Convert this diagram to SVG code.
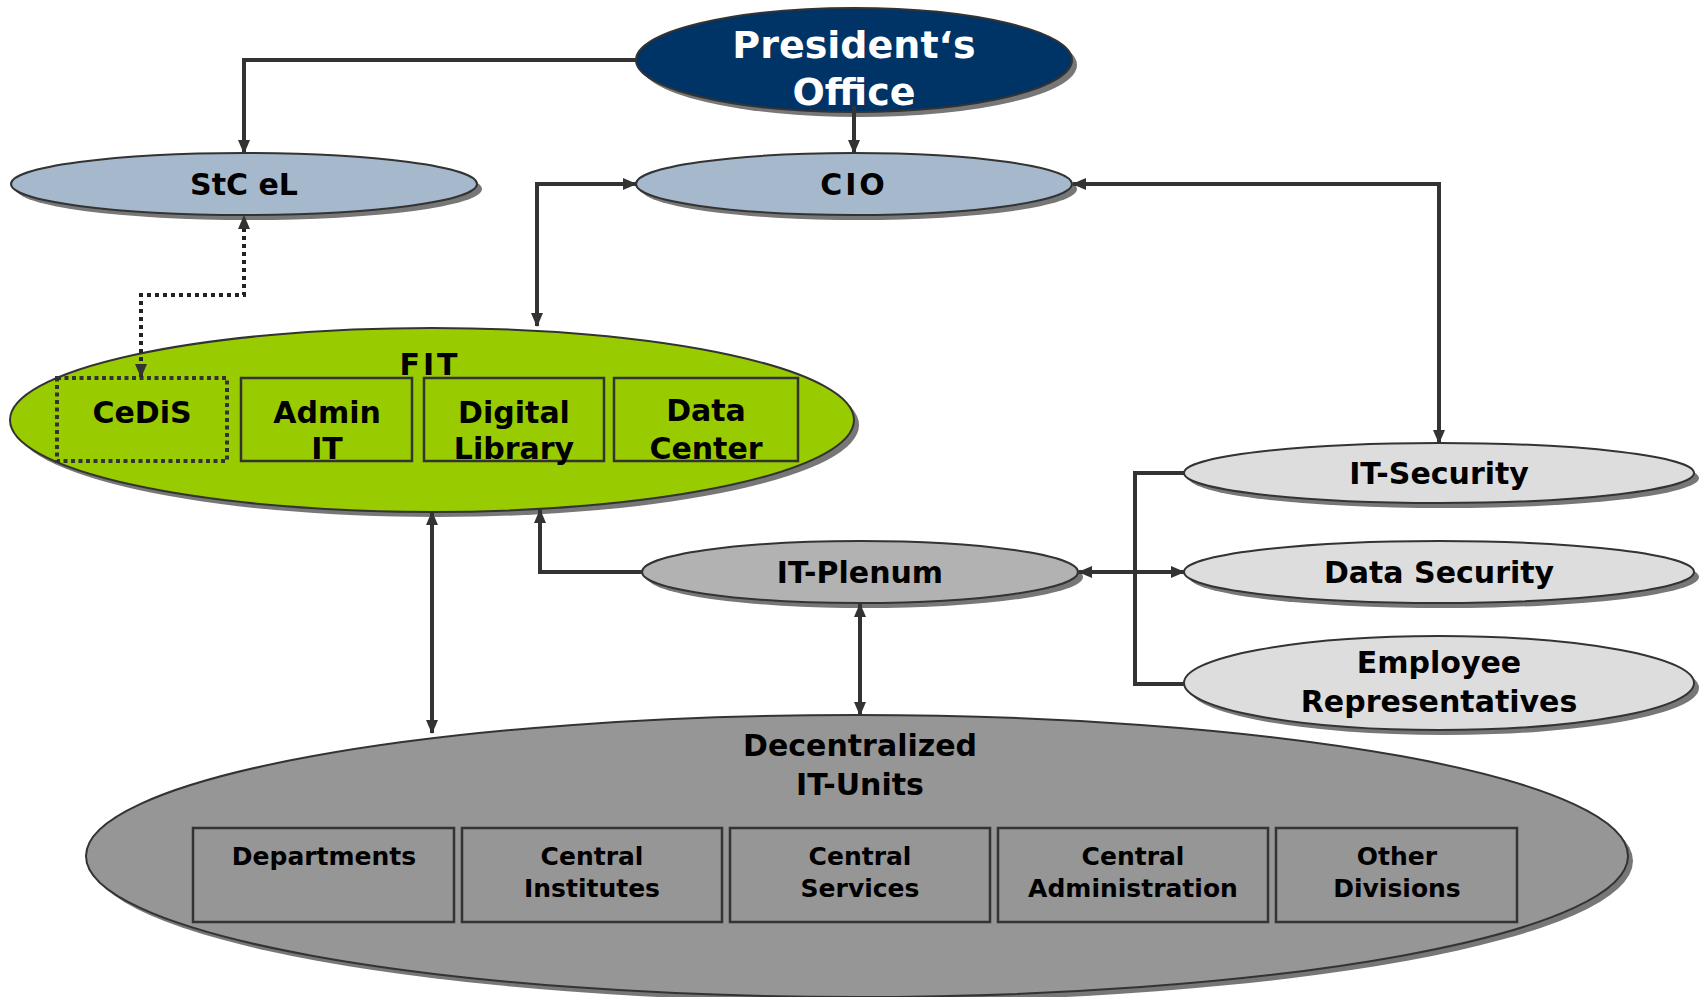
<svg xmlns="http://www.w3.org/2000/svg" width="1700" height="997" viewBox="0 0 1700 997">
<defs>
<marker id="ah" markerWidth="14" markerHeight="12" refX="13" refY="6" orient="auto-start-reverse" markerUnits="userSpaceOnUse">
<path d="M0,0 L14,6 L0,12 Z" fill="#333"/>
</marker>
</defs>
<style>
.t{font-family:"DejaVu Sans","Liberation Sans",sans-serif;font-weight:bold;fill:#000;text-anchor:middle}
.big{font-size:30px}
.sm{font-size:25px}
.sh{fill:#777}
.el{stroke:#333;stroke-width:2}
.box{fill:none;stroke:#333;stroke-width:2.5}
.c{fill:none;stroke:#333;stroke-width:4}
.cd{fill:none;stroke:#222;stroke-width:4;stroke-dasharray:4 4}
</style>
<rect width="1700" height="997" fill="#fff"/>

<g id="president">
<ellipse class="sh" cx="859" cy="65" rx="218" ry="52"/>
<ellipse class="el" cx="854" cy="60" rx="218" ry="52" fill="#003366"/>
<text class="t" x="854" y="58" font-size="38" style="fill:#fff">President‘s</text>
<text class="t" x="854" y="105" font-size="38" style="fill:#fff">Office</text>
</g>

<g id="stcel">
<ellipse class="sh" cx="249" cy="189" rx="233" ry="31"/>
<ellipse class="el" cx="244" cy="184" rx="233" ry="31" fill="#a6b8cc"/>
<text class="t big" x="244" y="195">StC eL</text>
</g>

<g id="cio">
<ellipse class="sh" cx="859" cy="189" rx="218" ry="31"/>
<ellipse class="el" cx="854" cy="184" rx="218" ry="31" fill="#a6b8cc"/>
<text class="t big" x="854" y="195" letter-spacing="3">CIO</text>
</g>

<g id="fit">
<ellipse class="sh" cx="437" cy="425" rx="422" ry="92"/>
<ellipse class="el" cx="432" cy="420" rx="422" ry="92" fill="#99cc00"/>
<text class="t big" x="430" y="375" letter-spacing="3">FIT</text>
<rect x="57" y="378" width="170" height="83" fill="none" stroke="#333" stroke-width="4" stroke-dasharray="4 3.5"/>
<text class="t big" x="142" y="423">CeDiS</text>
<rect class="box" x="241" y="378" width="171" height="83"/>
<text class="t big" x="327" y="423">Admin</text>
<text class="t big" x="327" y="459">IT</text>
<rect class="box" x="424" y="378" width="180" height="83"/>
<text class="t big" x="514" y="423">Digital</text>
<text class="t big" x="514" y="459">Library</text>
<rect class="box" x="614" y="378" width="184" height="83"/>
<text class="t big" x="706" y="421">Data</text>
<text class="t big" x="706" y="459">Center</text>
</g>

<g id="itsecurity">
<ellipse class="sh" cx="1444" cy="478" rx="255" ry="30"/>
<ellipse class="el" cx="1439" cy="473" rx="255" ry="30" fill="#dddddd"/>
<text class="t big" x="1439" y="484">IT-Security</text>
</g>

<g id="datasecurity">
<ellipse class="sh" cx="1444" cy="577" rx="255" ry="31"/>
<ellipse class="el" cx="1439" cy="572" rx="255" ry="31" fill="#dddddd"/>
<text class="t big" x="1439" y="583">Data Security</text>
</g>

<g id="employee">
<ellipse class="sh" cx="1444" cy="688" rx="255" ry="47"/>
<ellipse class="el" cx="1439" cy="683" rx="255" ry="47" fill="#dddddd"/>
<text class="t big" x="1439" y="673">Employee</text>
<text class="t big" x="1439" y="712">Representatives</text>
</g>

<g id="itplenum">
<ellipse class="sh" cx="865" cy="577" rx="218" ry="31"/>
<ellipse class="el" cx="860" cy="572" rx="218" ry="31" fill="#b2b2b2"/>
<text class="t big" x="860" y="583">IT-Plenum</text>
</g>

<g id="decentralized">
<ellipse class="sh" cx="862" cy="861" rx="771" ry="141"/>
<ellipse class="el" cx="857" cy="856" rx="771" ry="141" fill="#969696"/>
<text class="t big" x="860" y="756">Decentralized</text>
<text class="t big" x="860" y="795">IT-Units</text>
<rect class="box" x="193" y="828" width="261" height="94"/>
<text class="t sm" x="324" y="865">Departments</text>
<rect class="box" x="462" y="828" width="260" height="94"/>
<text class="t sm" x="592" y="865">Central</text>
<text class="t sm" x="592" y="897">Institutes</text>
<rect class="box" x="730" y="828" width="260" height="94"/>
<text class="t sm" x="860" y="865">Central</text>
<text class="t sm" x="860" y="897">Services</text>
<rect class="box" x="998" y="828" width="270" height="94"/>
<text class="t sm" x="1133" y="865">Central</text>
<text class="t sm" x="1133" y="897">Administration</text>
<rect class="box" x="1276" y="828" width="241" height="94"/>
<text class="t sm" x="1397" y="865">Other</text>
<text class="t sm" x="1397" y="897">Divisions</text>
</g>

<g id="connectors">
<path class="c" d="M636,60 H244 V153" marker-end="url(#ah)"/>
<path class="c" d="M854,106 V153" marker-end="url(#ah)"/>
<path class="cd" d="M141,377 V295 H244 V216" marker-start="url(#ah)" marker-end="url(#ah)"/>
<path class="c" d="M537,326 V184 H636" marker-start="url(#ah)" marker-end="url(#ah)"/>
<path class="c" d="M1073,184 H1439 V443" marker-start="url(#ah)" marker-end="url(#ah)"/>
<path class="c" d="M432,512 V733" marker-start="url(#ah)" marker-end="url(#ah)"/>
<path class="c" d="M642,572 H540 V510" marker-end="url(#ah)"/>
<path class="c" d="M860,604 V715" marker-start="url(#ah)" marker-end="url(#ah)"/>
<path class="c" d="M1079,572 H1184" marker-start="url(#ah)" marker-end="url(#ah)"/>
<path class="c" d="M1184,473 H1135 V684 H1184"/>
</g>
</svg>
